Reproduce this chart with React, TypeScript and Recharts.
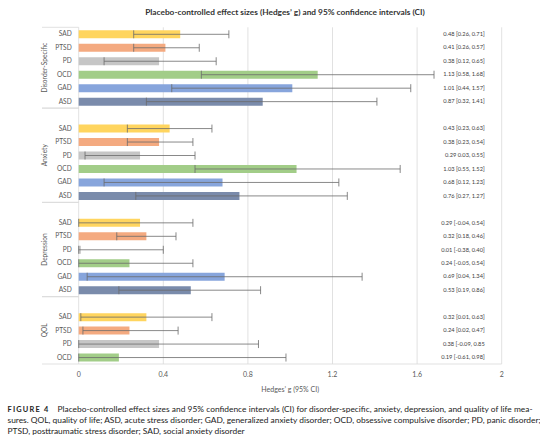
import { Bar, BarChart, CartesianGrid, Cell, ErrorBar, Label, XAxis, YAxis } from 'recharts';

const groups = ['Disorder-Specific', 'Anxiety', 'Depression', 'QOL'];
const disorders = ['SAD', 'PTSD', 'PD', 'OCD', 'GAD', 'ASD'];
const qolDisorders = ['SAD', 'PTSD', 'PD', 'OCD'];

const specificG = [0.48, 0.41, 0.38, 1.13, 1.01, 0.87];
const specificLo = [0.26, 0.26, 0.12, 0.58, 0.44, 0.32];
const specificHi = [0.71, 0.57, 0.65, 1.68, 1.57, 1.41];
const specificText = ['0.48 [0.26, 0.71]', '0.41 [0.26, 0.57]', '0.38 [0.12, 0.65]', '1.13 [0.58, 1.68]', '1.01 [0.44, 1.57]', '0.87 [0.32, 1.41]'];

const anxietyG = [0.43, 0.38, 0.29, 1.03, 0.68, 0.76];
const anxietyLo = [0.23, 0.23, 0.03, 0.55, 0.12, 0.27];
const anxietyHi = [0.63, 0.54, 0.55, 1.52, 1.23, 1.27];
const anxietyText = ['0.43 [0.23, 0.63]', '0.38 [0.23, 0.54]', '0.29 0.03, 0.55]', '1.03 [0.55, 1.52]', '0.68 [0.12, 1.23]', '0.76 [0.27, 1.27]'];

const depressionG = [0.29, 0.32, 0.01, 0.24, 0.69, 0.53];
const depressionLo = [-0.04, 0.18, -0.38, -0.05, 0.04, 0.19];
const depressionHi = [0.54, 0.46, 0.4, 0.54, 1.34, 0.86];
const depressionText = ['0.29 [-0.04, 0.54]', '0.32 [0.18, 0.46]', '0.01 [-0.38, 0.40]', '0.24 [-0.05, 0.54]', '0.69 [0.04, 1.34]', '0.53 [0.19, 0.86]'];

const qolG = [0.32, 0.24, 0.38, 0.19];
const qolLo = [0.01, 0.02, -0.09, -0.61];
const qolHi = [0.63, 0.47, 0.85, 0.98];
const qolText = ['0.32 [0.01, 0.63]', '0.24 [0.02, 0.47]', '0.38 [-0.09, 0.85', '0.19 [-0.61, 0.98]'];

const xTicks = [0, 0.4, 0.8, 1.2, 1.6, 2];

const colors: Record<string, string> = {
  SAD: '#FFD55F',
  PTSD: '#F4AA80',
  PD: '#C6C6C6',
  OCD: '#A2CD88',
  GAD: '#87A5DC',
  ASD: '#7A8BAB',
};

const groupData = [
  { names: disorders, g: specificG, lo: specificLo, hi: specificHi, text: specificText },
  { names: disorders, g: anxietyG, lo: anxietyLo, hi: anxietyHi, text: anxietyText },
  { names: disorders, g: depressionG, lo: depressionLo, hi: depressionHi, text: depressionText },
  { names: qolDisorders, g: qolG, lo: qolLo, hi: qolHi, text: qolText },
];

type Row = { id: string; name: string; group: number; g: number | null; err: number[] | null; text: string };

const rows: Row[] = [];
groupData.forEach((grp, gi) => {
  if (gi > 0) rows.push({ id: `gap-${gi}`, name: '', group: gi, g: null, err: null, text: '' });
  grp.names.forEach((name, i) => {
    const g = grp.g[i];
    // the axis starts at 0, so lower limits below it stop at the axis
    const low = Math.max(grp.lo[i], 0);
    rows.push({ id: `${gi}-${name}`, name, group: gi, g, err: [g - low, grp.hi[i] - g], text: grp.text[i] });
  });
});

const W = 540;
const CHART_H = 400;
const TOP = 27.3;
const X_AXIS_H = 36;
const PLOT_LEFT = 78.7;
const SEP_LEFT = 42;
const ROW_H = (CHART_H - TOP - X_AXIS_H) / rows.length;
const font = 'Lato, "Open Sans", sans-serif';

const LeftTick = ({ x, y, payload }: any) => {
  const idx = rows.findIndex((r) => r.id === payload.value);
  const row = rows[idx];
  const first = rows.findIndex((r) => r.group === row.group);
  const last = rows.length - 1 - [...rows].reverse().findIndex((r) => r.group === row.group);
  const labelY = y + ((last - first) / 2) * ROW_H;
  return (
    <g>
      <text x={x} y={y} dy="0.35em" textAnchor="end" fontSize={6.6} fill="#595959" fontFamily={font}>
        {row.name}
      </text>
      {idx === first && (
        <>
          <line x1={SEP_LEFT} x2={PLOT_LEFT} y1={y - ROW_H / 2} y2={y - ROW_H / 2} stroke="#D9D9D9" strokeWidth={0.8} />
          <text
            x={45}
            y={labelY}
            dy="0.35em"
            textAnchor="middle"
            fontSize={6.6}
            fill="#595959"
            fontFamily={font}
            transform={`rotate(-90 45 ${labelY})`}
          >
            {groups[row.group]}
          </text>
        </>
      )}
      {idx === last && (
        <line x1={SEP_LEFT} x2={PLOT_LEFT} y1={y + ROW_H / 2} y2={y + ROW_H / 2} stroke="#D9D9D9" strokeWidth={0.8} />
      )}
    </g>
  );
};

const textById: Record<string, string> = Object.fromEntries(rows.map((r) => [r.id, r.text]));

const RightTick = ({ x, y, payload }: any) => (
  <text x={x} y={y} dy="0.35em" textAnchor="end" fontSize={5.7} fill="#404040" fontFamily={font}>
    {textById[payload.value]}
  </text>
);

export default function App() {
  return (
    <div style={{ position: 'absolute', left: 0, top: 0, width: W, height: 437, background: '#fff', fontFamily: font }}>
      <div
        style={{
          position: 'absolute',
          top: 7,
          left: 0,
          width: W,
          paddingLeft: 30,
          boxSizing: 'border-box',
          textAlign: 'center',
          fontSize: 8.3,
          fontWeight: 700,
          color: '#333',
        }}
      >
        Placebo-controlled effect sizes (Hedges’ g) and 95% confidence intervals (CI)
      </div>
      <div style={{ position: 'absolute', top: 0, left: 0 }}>
        <BarChart
          width={W}
          height={CHART_H}
          data={rows}
          layout="vertical"
          margin={{ top: TOP, right: W - 501.7, left: 0, bottom: 0 }}
          barSize={8}
        >
          <CartesianGrid horizontal={false} stroke="#D9D9D9" strokeWidth={0.8} />
          <XAxis
            type="number"
            domain={[0, 2]}
            ticks={xTicks}
            height={X_AXIS_H}
            tickLine={false}
            tickSize={4}
            tickMargin={4}
            axisLine={{ stroke: '#D9D9D9', strokeWidth: 0.8 }}
            tick={{ fontSize: 7, fill: '#595959', fontFamily: font }}
          >
            <Label
              value="Hedges’ g (95% CI)"
              position="insideBottom"
              offset={8}
              style={{ fontSize: 7, fill: '#595959', fontFamily: font }}
            />
          </XAxis>
          <YAxis
            yAxisId="left"
            type="category"
            dataKey="id"
            width={PLOT_LEFT}
            interval={0}
            tickLine={false}
            axisLine={false}
            tickSize={0}
            tickMargin={7}
            tick={<LeftTick />}
          />
          <YAxis
            yAxisId="right"
            type="category"
            dataKey="id"
            orientation="right"
            mirror
            interval={0}
            tickLine={false}
            axisLine={false}
            tickSize={0}
            tickMargin={17}
            tick={<RightTick />}
          />
          <Bar yAxisId="left" dataKey="g" isAnimationActive={false}>
            {rows.map((r) => (
              <Cell key={r.id} fill={colors[r.name] || 'transparent'} />
            ))}
            <ErrorBar dataKey="err" direction="x" width={4} stroke="#6b6b6b" strokeWidth={0.8} isAnimationActive={false} />
          </Bar>
        </BarChart>
      </div>
      <div
        style={{
          position: 'absolute',
          top: 404,
          left: 7.5,
          width: 525,
          fontSize: 8.4,
          lineHeight: '11px',
          color: '#222',
        }}
      >
        <div style={{ textAlign: 'justify', textAlignLast: 'justify', whiteSpace: 'nowrap' }}>
          <span style={{ fontWeight: 700, letterSpacing: 1.2, fontSize: 7.4 }}>FIGURE 4</span>
          <span style={{ display: 'inline-block', width: 8 }} />
          Placebo-controlled effect sizes and 95% confidence intervals (CI) for disorder-specific, anxiety, depression, and quality of life mea-
        </div>
        <div style={{ textAlign: 'justify', textAlignLast: 'justify', whiteSpace: 'nowrap' }}>
          sures. QOL, quality of life; ASD, acute stress disorder; GAD, generalized anxiety disorder; OCD, obsessive compulsive disorder; PD, panic disorder;
        </div>
        <div>PTSD, posttraumatic stress disorder; SAD, social anxiety disorder</div>
      </div>
    </div>
  );
}
